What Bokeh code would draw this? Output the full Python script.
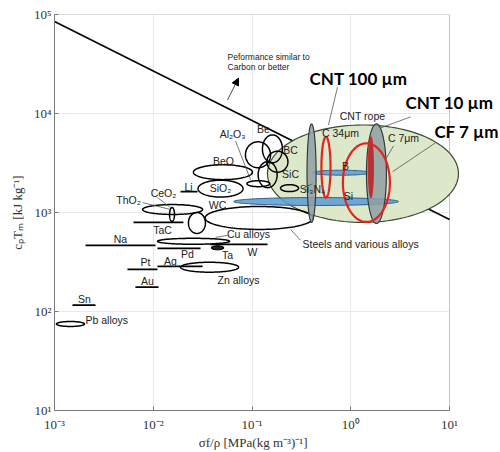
import numpy as np
from bokeh.plotting import figure
from bokeh.models import FixedTicker, CustomJSTickFormatter, Label, Arrow, NormalHead, ColumnDataSource
from bokeh.core.properties import value
from bokeh.embed import file_html
from bokeh.resources import INLINE

# ---------------- data ----------------
x_ticks = [1e-3, 1e-2, 1e-1, 1e0, 1e1]
y_ticks = [1e1, 1e2, 1e3, 1e4, 1e5]

# performance line (power law between two points)
perf_x = [1e-3, 10.0]
perf_y = [85000.0, 850.0]

# black outline material ellipses: centre (x, y) and half-widths in decades
out_names = ["Be", "Be-2", "BC", "BC-2", "Al2O3", "Si3N4", "BeO", "SiO2", "WC",
             "Steels", "ThO2", "CeO2", "Cu alloys", "Zn alloys", "Pb alloys"]
out_x = [0.161, 0.115, 0.181, 0.144, 0.116, 0.240, 0.0508, 0.048, 0.0277,
         0.118, 0.0157, 0.0155, 0.0256, 0.0372, 0.00145]
out_y = [4395, 3828, 3258, 2410, 1954, 1762, 2553, 1742, 784,
         881, 1072, 955, 512, 280, 74.8]
out_wx = [0.101, 0.127, 0.106, 0.096, 0.116, 0.091, 0.299, 0.228, 0.086,
          0.547, 0.304, 0.025, 0.365, 0.294, 0.142]
out_wy = [0.141, 0.131, 0.106, 0.131, 0.030, 0.035, 0.075, 0.085, 0.106,
          0.116, 0.050, 0.070, 0.030, 0.050, 0.025]

# Ta (filled black)
ta_x, ta_y, ta_wx, ta_wy = [0.0448], [440], [0.061], [0.020]

# CNT rope (green)
rope_x, rope_y, rope_wx, rope_wy = [1.33], [2466], [0.967], [0.492]

# grey CNT ellipses
grey_x, grey_y = [0.401, 1.82], [2494, 2466]
grey_wx, grey_wy = [0.046, 0.101], [0.497, 0.503]

# blue ellipses: B, Si
blue_x, blue_y = [0.805, 0.445], [2523, 1291]
blue_wx, blue_wy = [0.294, 0.835], [0.025, 0.040]

# red outlines: C 34um, CF 7um
red_x, red_y = [0.561, 1.44], [2864, 2004]
red_wx, red_wy = [0.046, 0.238], [0.307, 0.397]

# C 7um (dark red filled)
dred_x, dred_y, dred_wx, dred_wy = [1.60], [2864], [0.025], [0.307]

# horizontal bars: Na, TaC, Li, Pd, W, Pt, Ag, Au, Sn
bar_names = ["Na", "TaC", "Li", "Pd", "W", "Pt", "Ag", "Au", "Sn"]
bar_x0 = [0.00206, 0.00631, 0.0189, 0.01104, 0.038, 0.00548, 0.01104, 0.0066, 0.00152]
bar_x1 = [0.01054, 0.0202, 0.0281, 0.0301, 0.1436, 0.01104, 0.0316, 0.0113, 0.0026]
bar_y = [466, 793, 1626, 434, 476, 267, 286, 176, 116]

# leader lines
lead_x0 = [0.734, 4.03, 7.21, 2.71, 0.2455, 0.068, 0.00778, 0.01104, 0.0427, 0.33]
lead_y0 = [18450, 9227, 5058, 4713, 675, 5297, 1260, 1416, 561, 1760]
lead_x1 = [0.595, 2.0, 2.65, 2.25, 0.310, 0.0966, 0.01496, 0.01496, 0.0565, 0.41]
lead_y1 = [7656, 7145, 2582, 3412, 524, 2148, 1072, 1122, 587, 1950]

# small labels (centred)
lab_text = ["Sn", "Au", "Pt", "Ag", "Pd", "Ta", "W", "Zn alloys", "Na", "TaC",
            "ThO₂", "CeO₂", "Li", "WC", "BeO", "SiO₂", "Al₂O₃", "Be", "BC", "SiC",
            "Si₃N₄", "Cu alloys", "CNT rope", "C 34μm", "C 7μm", "B", "Si"]
lab_x = [0.00201, 0.00875, 0.00836, 0.01496, 0.0222, 0.0565, 0.101, 0.0730, 0.00466, 0.0124,
         0.00561, 0.0127, 0.0228, 0.0448, 0.0514, 0.048, 0.0636, 0.1306, 0.2455, 0.2455,
         0.410, 0.0922, 1.316, 0.787, 3.42, 0.885, 0.949]
lab_y = [133.7, 203, 314, 322, 378, 370, 396, 207, 535, 659,
         1352, 1589, 1824, 1203, 3336, 1782, 6223, 6982, 4295, 2466,
         1742, 601, 9443, 6368, 5675, 2965, 1483]

# left-aligned labels
llab_text = ["Pb alloys", "Steels and various alloys"]
llab_x = [0.00206, 0.3246]
llab_y = [82.2, 476]

# big labels
big_text = ["CNT 100 µm", "CNT 10 µm", "CF 7 µm"]
big_x = [1.198, 10.0, 14.9]
big_y = [22750, 12770, 6516]

# performance note
note_text = ["Peformance similar to", "Carbon or better"]
note_x = [0.0565, 0.0565]
note_y = [36980, 29310]
arrow_x0, arrow_y0, arrow_x1, arrow_y1 = 0.0565, 13680, 0.0730, 22750


def ellipse_paths(xc, yc, wx, wy):
    t = np.linspace(0, 2 * np.pi, 140)
    xs, ys = [], []
    for x, y, a, b in zip(xc, yc, wx, wy):
        xs.append(list(10 ** (np.log10(x) + a * np.cos(t))))
        ys.append(list(10 ** (np.log10(y) + b * np.sin(t))))
    return xs, ys


# ---------------- figure ----------------
W, H = 500, 452
LEFT, TOP, BOTTOM = 54, 14, 40
decade_px = 98.75
x_end = 10 ** (np.log10(x_ticks[0]) + (W - LEFT) / decade_px)  # frame runs past 10^1 to page edge

p = figure(width=W, height=H, x_axis_type="log", y_axis_type="log",
           x_range=(x_ticks[0], x_end), y_range=(y_ticks[0], y_ticks[-1]),
           output_backend="svg", toolbar_location=None,
           min_border_left=LEFT, min_border_right=0, min_border_top=TOP, min_border_bottom=BOTTOM)

p.background_fill_color = "white"
p.border_fill_color = "white"
p.outline_line_color = None
p.ygrid.grid_line_color = None
p.xgrid.grid_line_color = "#e9e9e9"
p.xgrid.bounds = (x_ticks[0], x_ticks[-1])

# horizontal grid lines limited to the axes box
p.segment([x_ticks[0]] * len(y_ticks), y_ticks, [x_ticks[-1]] * len(y_ticks), y_ticks,
          line_color="#e9e9e9", line_width=1)
# box: top and right edges
p.segment([x_ticks[0], x_ticks[-1]], [y_ticks[-1], y_ticks[0]],
          [x_ticks[-1], x_ticks[-1]], [y_ticks[-1], y_ticks[-1]],
          line_color="#c4c4c4", line_width=1)

fmt_code = """
const e = Math.round(Math.log10(tick));
const sup = {"-":"\u207b","0":"\u2070","1":"\u00b9","2":"\u00b2","3":"\u00b3","4":"\u2074","5":"\u2075","6":"\u2076","7":"\u2077","8":"\u2078","9":"\u2079"};
return "10" + String(e).split("").map(c => sup[c]).join("");
"""
for ax, ticks in ((p.xaxis, x_ticks), (p.yaxis, y_ticks)):
    ax.ticker = FixedTicker(ticks=ticks, minor_ticks=[])
    ax.formatter = CustomJSTickFormatter(code=fmt_code)
    ax.axis_line_color = "#7a7a7a"
    ax.major_tick_line_color = "#7a7a7a"
    ax.major_tick_in = 4
    ax.major_tick_out = 0
    ax.minor_tick_line_color = None
    ax.major_label_text_font = "Liberation Serif"
    ax.major_label_text_font_size = "13px"
    ax.major_label_text_color = "#333333"
    ax.axis_label_text_font = "Liberation Serif"
    ax.axis_label_text_font_size = "13px"
    ax.axis_label_text_font_style = "normal"
    ax.axis_label_text_color = "#333333"
p.xaxis.bounds = (x_ticks[0], x_ticks[-1])
p.xaxis.major_label_standoff = 6
p.yaxis.major_label_standoff = 3
p.xaxis.axis_label_standoff = 0
p.yaxis.axis_label_standoff = 6
# trailing no-break spaces shift the centred label back under the axes box
p.xaxis.axis_label = "σf/ρ [MPa(kg m⁻³)⁻¹]" + "\u00a0" * 15
p.yaxis.axis_label = "cₚTₘ [kJ kg⁻¹]"

# performance line
p.line(perf_x, perf_y, line_color="black", line_width=1.6)

# CNT rope (green)
xs, ys = ellipse_paths(rope_x, rope_y, rope_wx, rope_wy)
p.patches(xs, ys, fill_color="#dde8cb", fill_alpha=1.0, line_color="#3b4a36", line_width=1.2)

# black outlines
xs, ys = ellipse_paths(out_x, out_y, out_wx, out_wy)
p.patches(xs, ys, fill_color=None, line_color="black", line_width=1.5)
xs, ys = ellipse_paths(ta_x, ta_y, ta_wx, ta_wy)
p.patches(xs, ys, fill_color="#222222", line_color="black", line_width=1.2)

# bars
p.segment(bar_x0, bar_y, bar_x1, bar_y, line_color="black", line_width=1.8)

# blue
xs, ys = ellipse_paths(blue_x, blue_y, blue_wx, blue_wy)
p.patches(xs, ys, fill_color="#5b9bd5", fill_alpha=0.85, line_color="#2c5f86", line_width=1.0)

# grey
xs, ys = ellipse_paths(grey_x, grey_y, grey_wx, grey_wy)
p.patches(xs, ys, fill_color="#8f9fa3", fill_alpha=0.85, line_color="#2e3c42", line_width=1.2)

# red
xs, ys = ellipse_paths(dred_x, dred_y, dred_wx, dred_wy)
p.patches(xs, ys, fill_color="#b3262a", fill_alpha=0.9, line_color="#c9302c", line_width=1.2)
xs, ys = ellipse_paths(red_x, red_y, red_wx, red_wy)
p.patches(xs, ys, fill_color=None, line_color="#e3241e", line_width=2.2)

# leaders
p.segment(lead_x0, lead_y0, lead_x1, lead_y1, line_color="#555555", line_width=0.8)

# labels
src = ColumnDataSource(dict(x=lab_x, y=lab_y, t=lab_text))
p.text("x", "y", text="t", source=src, text_align="center", text_baseline="middle",
       text_font=value("Liberation Sans"), text_font_size="10.5px", text_color="#222222")
src2 = ColumnDataSource(dict(x=llab_x, y=llab_y, t=llab_text))
p.text("x", "y", text="t", source=src2, text_align="left", text_baseline="middle",
       text_font=value("Liberation Sans"), text_font_size="10.5px", text_color="#222222")
src3 = ColumnDataSource(dict(x=note_x, y=note_y, t=note_text))
p.text("x", "y", text="t", source=src3, text_align="left", text_baseline="middle",
       text_font=value("Liberation Sans"), text_font_size="8.5px", text_color="#222222")

for t, x, y in zip(big_text, big_x, big_y):
    p.add_layout(Label(x=x, y=y, text=t, text_align="center", text_baseline="middle",
                       text_font="Lato", text_font_style="bold", text_font_size="17px",
                       text_color="black"))

p.add_layout(Arrow(end=NormalHead(size=7, fill_color="black", line_color="black"),
                   x_start=arrow_x0, y_start=arrow_y0, x_end=arrow_x1, y_end=arrow_y1,
                   line_color="#333333", line_width=0.9))

open("out.html", "w", encoding="utf-8").write(file_html(p, INLINE))
